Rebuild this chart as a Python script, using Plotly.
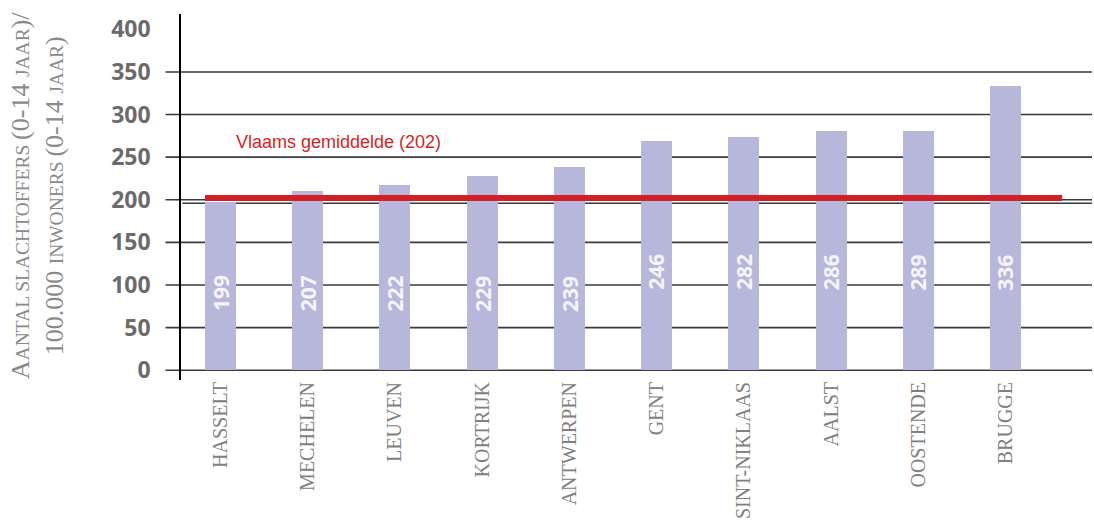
import plotly.graph_objects as go

cities = ["HASSELT", "MECHELEN", "LEUVEN", "KORTRIJK", "ANTWERPEN",
          "GENT", "SINT-NIKLAAS", "AALST", "OOSTENDE", "BRUGGE"]
bar_values = [197, 210, 217, 228, 239, 269, 274, 281, 281, 333]
label_values = [199, 207, 222, 229, 239, 246, 282, 286, 289, 336]
flemish_avg = 202
avg_label = "Vlaams gemiddelde (202)"
y_ticks = [0, 50, 100, 150, 200, 250, 300, 350, 400]
y_title_lines = ["Aantal slachtoffers (0-14 jaar)/", "100.000 inwoners (0-14 jaar)"]

BAR_W = 0.356
GRID_C = "#3a3a3a"


def smallcaps(text, big, small):
    out = []
    buf = ""
    cur = None
    for ch in text:
        kind = "big" if (ch.isupper() or not ch.isalpha()) else "small"
        if ch == " ":
            kind = cur or "big"
        if kind != cur and buf:
            size = big if cur == "big" else small
            out.append(f"<span style='font-size:{size}px'>{buf.upper()}</span>")
            buf = ""
        cur = kind
        buf += ch
    if buf:
        size = big if cur == "big" else small
        out.append(f"<span style='font-size:{size}px'>{buf.upper()}</span>")
    return "".join(out)


fig = go.Figure()
fig.add_trace(go.Bar(
    x=cities, y=bar_values, width=BAR_W,
    marker=dict(color="#b7b7dc", line=dict(width=0)),
    hoverinfo="skip",
))

n = len(cities)
shapes = []
for v in y_ticks[:-1]:
    shapes.append(dict(type="line", xref="paper", yref="y", x0=-0.017, x1=1.0,
                       y0=v, y1=v, line=dict(color=GRID_C, width=1.6), layer="below"))
shapes.append(dict(type="line", xref="paper", yref="y", x0=0.0015, x1=1.0,
                   y0=196, y1=196, line=dict(color=GRID_C, width=1.6), layer="below"))
shapes.append(dict(type="line", xref="x", yref="y", x0=-BAR_W / 2, x1=n - 1 + 0.65,
                   y0=flemish_avg, y1=flemish_avg,
                   line=dict(color="#d41f26", width=6), layer="above"))

annotations = []
for i, (c, lv) in enumerate(zip(cities, label_values)):
    annotations.append(dict(
        x=c, y=90 if i < 5 else 115, xref="x", yref="y", text=f"<b>{lv}</b>",
        showarrow=False, textangle=-90,
        font=dict(family="Open Sans", size=21, color="#f4f4fa"),
    ))
annotations.append(dict(
    x=0.16, y=268, xref="x", yref="y", text=avg_label, showarrow=False,
    xanchor="left", yanchor="middle",
    font=dict(family="Liberation Sans, Arial", size=18, color="#d41f26"),
))
annotations.append(dict(
    x=-0.158, y=0.505, xref="paper", yref="paper",
    text="<br>".join(smallcaps(t, 26, 19.5) for t in y_title_lines),
    showarrow=False, textangle=-90, xanchor="center", yanchor="middle",
    font=dict(family="Liberation Serif", size=26, color="#8a8a8a"),
))

fig.update_layout(
    width=1094, height=521,
    margin=dict(l=181, r=2, t=14, b=138),
    paper_bgcolor="white", plot_bgcolor="white",
    showlegend=False,
    shapes=shapes, annotations=annotations,
    bargap=0,
)
fig.update_xaxes(
    type="category", range=[-0.453, 9.992],
    showgrid=False, showline=False, zeroline=False, ticks="",
    tickangle=-90,
    tickfont=dict(family="Liberation Serif", size=20, color="#808080"),
    ticklabelstandoff=-3,
)
fig.update_yaxes(
    range=[-11.5, 418], tickvals=y_ticks,
    showgrid=False, zeroline=False,
    showline=True, linecolor="black", linewidth=1.5,
    ticks="", ticklabelstandoff=24,
    tickfont=dict(family="Open Sans", size=23, color="#6b6b6b", weight=700),
)

fig.write_html("out.html")
